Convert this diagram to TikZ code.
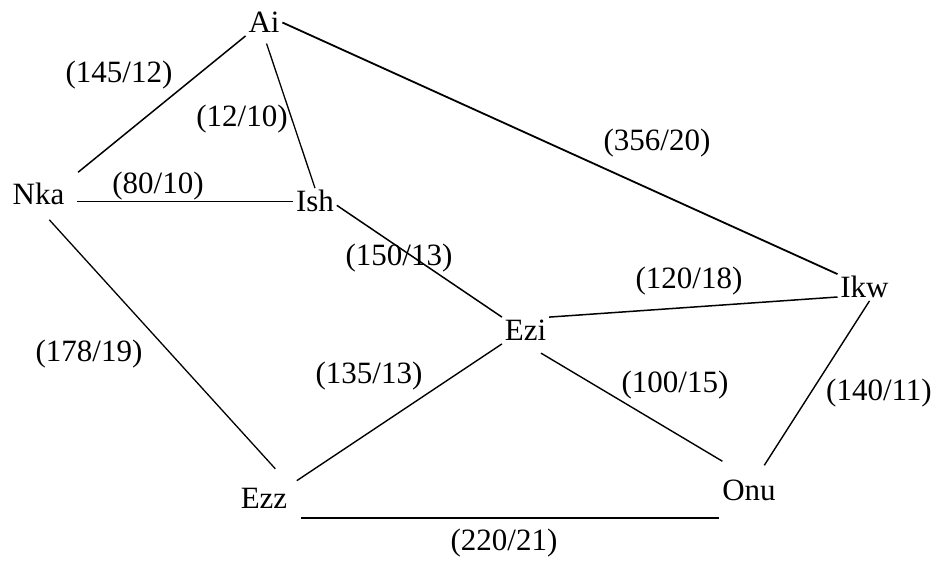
\documentclass[tikz,border=0pt]{standalone}
\usepackage{fontspec}
\setmainfont{Liberation Serif}

\begin{document}
\begin{tikzpicture}[x=1pt, y=-1pt, line width=1.8pt, line cap=butt,
  town/.style={anchor=base, inner sep=2pt, text height=20pt, text depth=1pt,
               font=\fontsize{31}{37}\selectfont},
  wt/.style={anchor=base, inner sep=0pt, font=\fontsize{31}{37}\selectfont}]

  %% ════ 地点（基线坐标）════
  \node[town] (ai)  at (264.0,32.0)  {Ai};
  \node[town] (nka) at (38.5,204.0)  {Nka};
  \node[town] (ish) at (315.0,211.0) {Ish};
  \node[town] (ezi) at (525.5,340.0) {Ezi};
  \node[town] (ikw) at (864.5,297.0) {Ikw};
  \node[town] (ezz) at (264.0,508.0) {Ezz};
  \node[town] (onu) at (749.0,500.0) {Onu};

  %% ════ 道路 ════
  \draw[line width=1.5pt, shorten >=14pt] (ai.south west) -- (nka.north east);
  \draw[line width=1.3pt, shorten <=8pt] (ai.south) -- (ish.north);
  \draw (ai.east) -- (ikw.north west);
  \draw ([xshift=10pt]nka.east |- ish.west) -- (ish.west);
  \draw[line width=1.5pt] (ish.-10) -- (ezi.north west);
  \draw[line width=1.3pt, shorten <=16pt, shorten >=22pt] (nka.south) -- (ezz.north east);
  \draw[line width=1.4pt, shorten <=8pt] (ezz.north east) -- (ezi.south west);
  \draw ([shift={(11,6)}]ezz.south east) -- ([shift={(0,6)}]ezz.south east -| onu.south west);
  \draw[line width=1.5pt] (ezi.north east) -- (ikw.base west);
  \draw[line width=1.4pt, shorten <=18pt, shorten >=31pt] (ezi.south) -- (onu.north);
  \draw[line width=1.4pt, shorten >=14pt] ([xshift=5pt]ikw.south) -- (onu.60);

  %% ════ 权重标签（距离/时间）════
  \node[wt] (w145) at (119.0,82.0)  {(145/12)};   % box(65,63,108,24)
  \node[wt] (w12)  at (242.0,126.0) {(12/10)};    % box(197,107,91,24)
  \node[wt] (w80)  at (158.0,193.0) {(80/10)};    % box(113,173,91,25)
  \node[wt] (w150) at (399.0,265.0) {(150/13)};   % box(345,247,108,23)
  \node[wt] (w356) at (657.0,150.0) {(356/20)};   % box(603,130,108,25)
  \node[wt] (w120) at (689.0,288.0) {(120/18)};   % box(635,270,108,23)
  \node[wt] (w178) at (89.0,361.0)  {(178/19)};   % box(35,342,108,24)
  \node[wt] (w135) at (369.0,383.0) {(135/13)};   % box(315,365,108,23)
  \node[wt] (w100) at (675.0,392.0) {(100/15)};   % box(622,372,106,25)
  \node[wt] (w140) at (879.0,400.0) {(140/11)};   % box(825,380,108,25)
  \node[wt] (w220) at (504.0,550.0) {(220/21)};   % box(450,535,108,20)

  % 钉死画布
  \pgfresetboundingbox
  \path[use as bounding box] (0,0) rectangle (938,562);
\end{tikzpicture}
\end{document}
